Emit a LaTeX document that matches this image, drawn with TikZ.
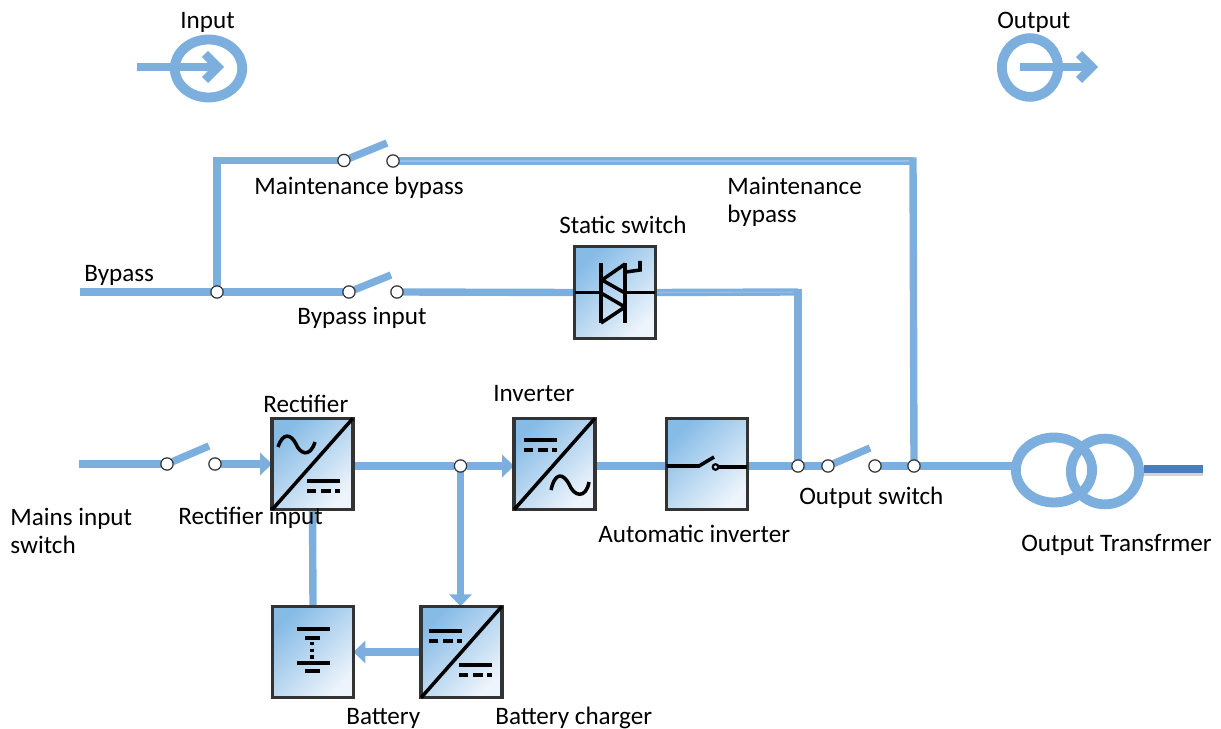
\documentclass[tikz,border=0pt]{standalone}
\usepackage{fontspec}
\setmainfont{Carlito}
\usetikzlibrary{arrows.meta,shapes.geometric,backgrounds}
\definecolor{wireblue}{HTML}{7CAFDE}
\definecolor{wirelight}{HTML}{98C0E7}
\definecolor{stubblue}{HTML}{4A7EBB}
\definecolor{boxa}{HTML}{86BBE6}
\definecolor{boxb}{HTML}{EDF4FB}
\definecolor{edge}{HTML}{333333}
\tikzset{
  x=0.02cm,y=-0.02cm,
  wire/.style={draw=wireblue,line width=4.2pt},
  wirepale/.style={draw=wireblue,line width=1.8pt,double=wirelight,double distance=.6pt},
  flow/.style={wire,-{Triangle[length=6.8pt,width=12.5pt]}},
  terminal/.style={circle,draw=edge,fill=white,line width=.7pt,inner sep=0pt,minimum size=7pt,outer sep=0pt},
  unit/.style={rectangle,draw=edge,line width=1.9pt,inner sep=0pt,outer sep=0pt,minimum width=46pt,minimum height=52pt,top color=boxa,bottom color=boxb,shading angle=45},
  sym/.style={draw=black,line width=2pt},
  dashsym/.style={sym,dash pattern=on 5.4pt off 2.6pt},
  ring/.style={draw=wireblue,line width=5.6pt},
  coil/.style={ellipse,ring,inner sep=0pt,outer sep=0pt},
  lab/.style={anchor=west,inner sep=0pt,yshift=-2.27pt,text height=.7em,text depth=.2em,font=\fontsize{14.3pt}{15.9pt}\selectfont,align=left},
}
\begin{document}
\begin{tikzpicture}
\useasboundingbox (0,0) rectangle (1221,729);
% units
\node[unit] (static) at (615,292.5) {};
\node[unit] (rect) at (312.5,464) {};
\node[unit] (inv) at (554.5,464) {};
\node[unit] (auto) at (707,464) {};
\node[unit] (batt) at (313,652) {};
\node[unit] (chg) at (461.5,652) {};
% terminals
\node[terminal] (j1) at (217,292) {};
\node[terminal] (mb1) at (344,160.5) {};
\node[terminal] (mb2) at (393,161) {};
\node[terminal] (bp1) at (349,292) {};
\node[terminal] (bp2) at (397,292) {};
\node[terminal] (mi1) at (167,464) {};
\node[terminal] (mi2) at (215,464) {};
\node[terminal] (j2) at (460.5,466) {};
\node[terminal] (j3) at (798,466) {};
\node[terminal] (os1) at (828,466) {};
\node[terminal] (os2) at (875,466) {};
\node[terminal] (j4) at (914,466) {};
% free ends
\coordinate (bpin) at (80,292);
\coordinate (miin) at (79,464);
\coordinate (c1) at (913,161);
\coordinate (c1top) at (913,157.5);
\coordinate (c2) at (798,292);
\coordinate (c2top) at (798,289);
\coordinate (mbtip) at (387,143);
\coordinate (bptip) at (391,275);
\coordinate (mitip) at (209,446);
\coordinate (ostip) at (870,448);
\coordinate (outend) at (1203,469);
% transformer
\node[coil,minimum width=43.4pt,minimum height=37pt] (t1) at (1054,470) {};
\node[coil,minimum width=38.8pt,minimum height=37.4pt] (t2) at (1105,471.5) {};
% connectors
\begin{scope}[on background layer]
\draw[wire] (bpin) -- (j1);
\draw[wire] (j1) |- (mb1);
\draw[wire] (mb1) -- (mbtip);
\draw[wirepale] (mb2) -- (c1);
\draw[wire] (c1top) -- (j4);
\draw[wire] (j1) -- (bp1);
\draw[wire] (bp1) -- (bptip);
\draw[wire] (bp2) -- (static.west);
\draw[wirepale] (static.east) -- (c2);
\draw[wire] (c2top) -- (j3);
\draw[wire] (miin) -- (mi1);
\draw[wire] (mi1) -- (mitip);
\draw[flow] (mi2) -- (rect.west);
\draw[wire] (rect.east |- j2) -- (j2);
\draw[flow] (j2) -- (inv.west |- j2);
\draw[wire] (inv.east |- j2) -- (auto.west |- j2);
\draw[wire] (auto.east |- j3) -- (j3);
\draw[wire] (j3) -- (os1);
\draw[wire] (os1) -- (ostip);
\draw[wire] (os2) -- (j4);
\draw[wire] (j4) -- (t1.west |- j4);
\draw[wire] (rect.south) -- (batt.north);
\draw[flow] (j2) -- (chg.north -| j2);
\draw[flow] (chg.west) -- (batt.east);
\draw[draw=gray,opacity=.35,line width=2pt] (t2.east |- 0,474) -- (outend |- 0,474);
\draw[draw=stubblue,line width=4.4pt] (1144,469) -- (outend);
\end{scope}
% static switch symbol
\draw[sym] (static.west) -- (601,292.5);
\draw[sym] (625,292.5) -- (static.east);
\draw[sym] (601,263) -- (601,323);
\draw[sym] (625,263) -- (625,323);
\draw[sym,line join=round] (625,264) -- (602,280) -- (625,293);
\draw[sym,line join=round] (601,293) -- (625,307) -- (601,323);
\draw[sym] (626,272) -- (640,270) -- (640,261);
% rectifier symbol
\draw[sym] (rect.south west) -- (rect.north east);
\draw[sym] (278,447) .. controls (283,432) and (291,434) .. (296,444) .. controls (300,454) and (310,458) .. (315,442);
\draw[sym] (307,481) -- (340,481);
\draw[dashsym] (307,491) -- (340,491);
% inverter symbol
\draw[sym] (inv.south west) -- (inv.north east);
\draw[sym] (524,440) -- (557,440);
\draw[dashsym] (524,450) -- (557,450);
\draw[sym] (551,490) .. controls (555,472) and (563,473) .. (569,484) .. controls (574,497) and (586,499) .. (589,482);
% automatic switch symbol
\draw[sym] (auto.west |- 0,466) -- (699,466) -- (714,457);
\draw[draw=black,line width=1.2pt] (715.5,467) circle (2.8);
\draw[sym] (719,467) -- (auto.east |- 0,467);
% battery charger symbol
\draw[sym] (chg.south west) -- (chg.north east);
\draw[sym] (429,631) -- (462,631);
\draw[dashsym] (429,641) -- (462,641);
\draw[sym] (459,665) -- (492,665);
\draw[dashsym] (459,675) -- (492,675);
% battery symbol
\draw[sym] (297,629) -- (330,629);
\draw[sym] (305,638) -- (320,638);
\draw[sym,dash pattern=on 1.8pt off 2pt] (312,642) -- (312,660);
\draw[sym] (297,663) -- (330,663);
\draw[sym] (305,671) -- (320,671);
% input and output marks
\node[coil,minimum width=38.4pt,minimum height=33pt] (inring) at (208.5,68.5) {};
\coordinate (instart) at (137,67);
\coordinate (inend) at (218,67);
\draw[wire] (instart) -- (inend);
\draw[wire,line width=5pt,miter limit=10] (205,54) -- (218,67) -- (205,80);
\node[coil,minimum width=32pt,minimum height=33.4pt] (outring) at (1030,67.5) {};
\coordinate (outstart) at (1020,67);
\coordinate (outendb) at (1090,67);
\draw[wire] (outstart) -- (outendb);
\draw[wire,line width=5pt,miter limit=10] (1079,54) -- (1092,67) -- (1079,80);
% labels
\node[lab] (l1) at (180,20) {Input};
\node[lab] (l2) at (997,20) {Output};
\node[lab] (l3) at (254,186) {Maintenance bypass};
\node[lab] (l4) at (727,214) {Maintenance\\bypass};
\node[lab] (l5) at (559,225) {Static switch};
\node[lab] (l6) at (84,273) {Bypass};
\node[lab] (l7) at (297,316) {Bypass input};
\node[lab] (l8) at (263,404) {Rectifier};
\node[lab] (l9) at (493,393) {Inverter};
\node[lab] (l10) at (10,545) {Mains input\\switch};
\node[lab] (l11) at (178,516) {Rectifier input};
\node[lab] (l12) at (598,534) {Automatic inverter};
\node[lab] (l13) at (799,496) {Output switch};
\node[lab] (l14) at (1021,543) {Output Transfrmer};
\node[lab] (l15) at (346,716) {Battery};
\node[lab] (l16) at (495,716) {Battery charger};
\end{tikzpicture}
\end{document}
